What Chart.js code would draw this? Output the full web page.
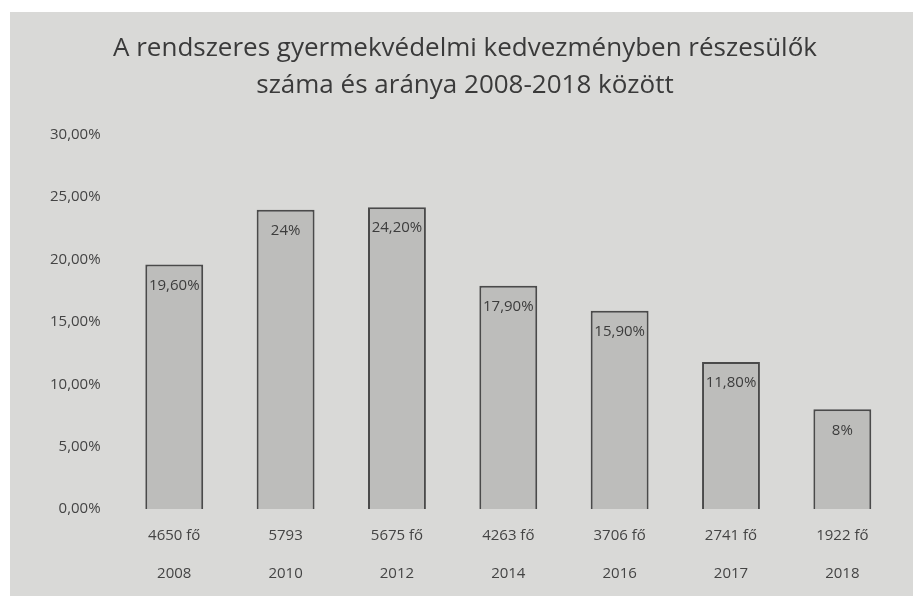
<!DOCTYPE html>
<html>
<head>
<meta charset="utf-8">
<script src="https://cdn.jsdelivr.net/npm/chart.js@4/dist/chart.umd.min.js"></script>
<style>
    html, body { margin: 0; padding: 0; background: #ffffff; }
    #wrap {
        position: absolute;
        left: 10px;
        top: 12px;
        width: 903px;
        height: 584px;
        background: #d9d9d7;
    }
</style>
</head>
<body>
<div id="wrap"><canvas id="barChartCanvas" width="903" height="584"></canvas></div>
<script>
// Chart data
const years = ['2008', '2010', '2012', '2014', '2016', '2017', '2018'];
const persons = ['4650 fő', '5793', '5675 fő', '4263 fő', '3706 fő', '2741 fő', '1922 fő'];
const shares = [19.6, 24, 24.2, 17.9, 15.9, 11.8, 8];
const shareLabels = ['19,60%', '24%', '24,20%', '17,90%', '15,90%', '11,80%', '8%'];
const yTicks = [0, 5, 10, 15, 20, 25, 30];

const fontFamily = '"Open Sans", Lato, sans-serif';

// Labels inside the top of each bar, clipped to the bar like in the original
const barLabels = {
    id: 'barLabels',
    afterDatasetsDraw(chart) {
        const ctx = chart.ctx;
        const meta = chart.getDatasetMeta(0);
        meta.data.forEach((bar, i) => {
            const left = bar.x - bar.width / 2;
            ctx.save();
            ctx.beginPath();
            ctx.rect(left, bar.y, bar.width, bar.base - bar.y);
            ctx.clip();
            ctx.fillStyle = '#3c3c3c';
            ctx.font = '15px ' + fontFamily;
            ctx.textAlign = 'center';
            ctx.textBaseline = 'middle';
            ctx.fillText(shareLabels[i], bar.x, bar.y + 21);
            ctx.restore();
        });
    }
};

const ctx = document.getElementById('barChartCanvas').getContext('2d');
new Chart(ctx, {
    type: 'bar',
    data: {
        labels: years.map((y, i) => [persons[i], y]),
        datasets: [{
            data: shares,
            backgroundColor: '#bdbdbb',
            borderColor: '#4a4a4a',
            borderWidth: 2,
            categoryPercentage: 1,
            barPercentage: 0.52
        }]
    },
    options: {
        responsive: false,
        animation: false,
        layout: { padding: { left: 22, right: 15, top: 0, bottom: -5 } },
        plugins: {
            legend: { display: false },
            tooltip: { enabled: false },
            title: {
                display: true,
                text: ['A rendszeres gyermekvédelmi kedvezményben részesülők', 'száma és aránya 2008-2018 között'],
                color: '#3a3a3a',
                font: { family: fontFamily, size: 26, weight: 'normal', lineHeight: 1.42 },
                padding: { top: 18, bottom: 31 }
            }
        },
        scales: {
            x: {
                grid: { display: false, drawTicks: false },
                border: { display: false },
                ticks: {
                    color: '#444',
                    font: { family: fontFamily, size: 15, lineHeight: 2.53 },
                    padding: 8,
                    maxRotation: 0
                }
            },
            y: {
                min: 0,
                max: 30,
                grid: { display: false, drawTicks: false },
                border: { display: false },
                afterBuildTicks(axis) {
                    axis.ticks = yTicks.map(v => ({ value: v }));
                },
                ticks: {
                    color: '#444',
                    font: { family: fontFamily, size: 15 },
                    padding: 18,
                    callback: v => v.toFixed(2).replace('.', ',') + '%'
                }
            }
        }
    },
    plugins: [barLabels]
});
</script>
</body>
</html>
